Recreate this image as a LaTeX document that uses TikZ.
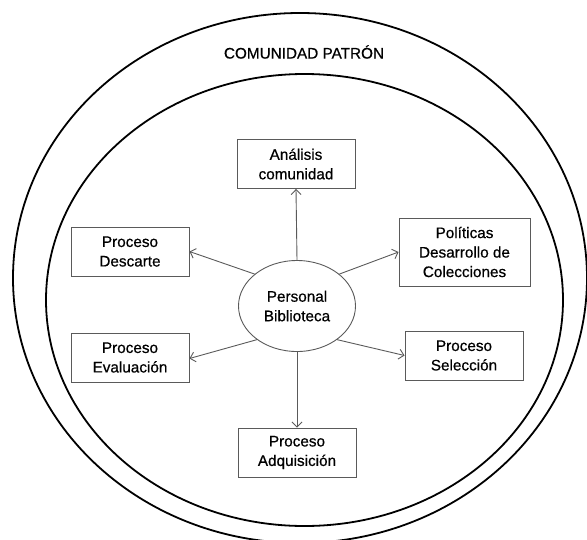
\documentclass[tikz,border=0pt]{standalone}
\usepackage{fontspec}
\setmainfont{Liberation Sans}
\newfontfamily\labelfont{Liberation Sans}[FakeBold=0.6]
\usetikzlibrary{shapes.geometric,arrows.meta}

\definecolor{edgegray}{HTML}{5A5A5A}

\tikzset{
  labeltext/.style={font=\labelfont\fontsize{15.3}{19.5}\selectfont},
  procbox/.style={labeltext, draw=edgegray, line width=0.9pt, rectangle, align=center,
    minimum width=118pt, minimum height=49pt, inner sep=0pt},
  hub/.style={labeltext, draw=edgegray, line width=0.9pt, ellipse, align=center,
    minimum width=117pt, minimum height=91pt, inner sep=0pt},
  ring/.style={draw=black, line width=1.8pt},
  link/.style={draw=edgegray, line width=0.9pt,
    -{Straight Barb[length=5pt,width=10pt,line width=0.9pt]}},
}

\begin{document}
\begin{tikzpicture}[x=1pt,y=-1pt]
  \useasboundingbox (0,0) rectangle (587,539);
  \clip (0,0) rectangle (587,539);

  % community rings
  \draw[ring] (300,278) ellipse [x radius=287, y radius=265];
  \draw[ring] (304.5,300) ellipse [x radius=258.5, y radius=226];
  \node[labeltext] (patron) at (304,52) {COMUNIDAD PATRÓN};

  % central actor
  \node[hub] (pb) at (297,306) {Personal\\Biblioteca};

  % processes around it
  \node[procbox] (an)   at (296,164) {Análisis\\comunidad};
  \node[procbox] (desc) at (130,251.5) {Proceso\\Descarte};
  \node[procbox, minimum width=131pt, minimum height=68pt] (pol) at (464.5,252) {Políticas\\Desarrollo de\\Colecciones};
  \node[procbox] (eval) at (130,357.5) {Proceso\\Evaluación};
  \node[procbox] (sel)  at (464,355.5) {Proceso\\Selección};
  \node[procbox] (adq)  at (297,452.5) {Proceso\\Adquisición};

  % connectors
  \draw[link] (pb.north) -- (an.south);
  \draw[link] (pb.143) -- (desc.east);
  \draw[link] (pb.37) -- (pol.west);
  \draw[link] (pb.220) -- ([yshift=-1pt]eval.east);
  \draw[link] (pb.-40) -- (sel.west);
  \draw[link] (pb.south) -- (adq.north);
\end{tikzpicture}
\end{document}
